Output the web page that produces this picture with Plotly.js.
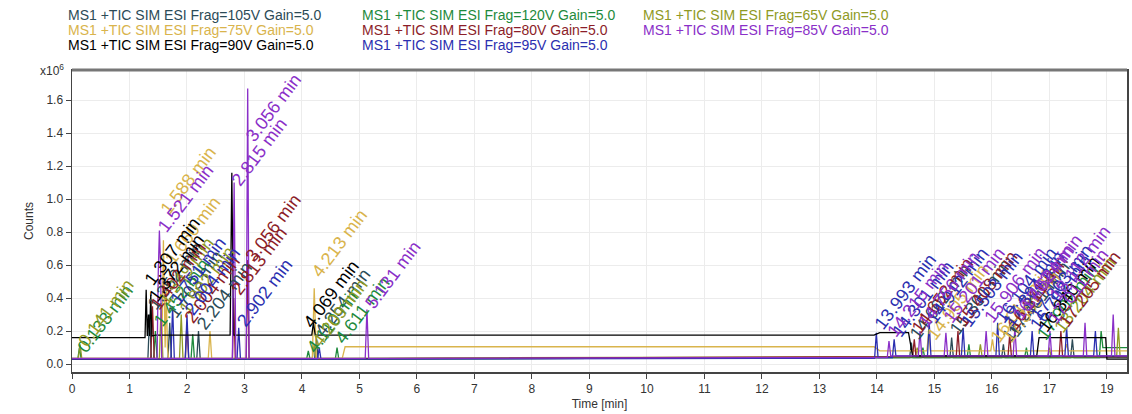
<!DOCTYPE html>
<html><head><meta charset="utf-8">
<script src="https://cdn.plot.ly/plotly-3.0.1.min.js"></script>
<style>html,body{margin:0;padding:0;background:#fff}#chart{width:1132px;height:414px}</style>
</head><body><div id="chart"></div>
<script>
// ---- data (counts in units of 1e6, time in min) ----
const seriesNames = [
  "MS1 +TIC SIM ESI Frag=105V Gain=5.0",
  "MS1 +TIC SIM ESI Frag=120V Gain=5.0",
  "MS1 +TIC SIM ESI Frag=65V Gain=5.0",
  "MS1 +TIC SIM ESI Frag=75V Gain=5.0",
  "MS1 +TIC SIM ESI Frag=80V Gain=5.0",
  "MS1 +TIC SIM ESI Frag=85V Gain=5.0",
  "MS1 +TIC SIM ESI Frag=90V Gain=5.0",
  "MS1 +TIC SIM ESI Frag=95V Gain=5.0"
];
const x105 = [0, 1.32, 1.35, 1.38, 1.67, 1.70, 1.73, 2.17, 2.20, 2.23, 4.22, 4.25, 4.28, 14.57, 14.60, 14.63, 15.27, 15.30, 15.33, 16.17, 16.20, 16.23, 17.37, 17.40, 17.43, 18.35];
const y105 = [0.03, 0.03, 0.30, 0.03, 0.03, 0.25, 0.03, 0.03, 0.20, 0.03, 0.03, 0.15, 0.03, 0.04, 0.13, 0.04, 0.04, 0.16, 0.04, 0.04, 0.12, 0.04, 0.04, 0.15, 0.04, 0.04];
const x120 = [0, 0.10, 0.13, 0.16, 1.42, 1.45, 1.48, 2.07, 2.10, 2.13, 4.08, 4.11, 4.14, 4.58, 4.61, 4.64, 14.77, 14.80, 14.83, 15.57, 15.60, 15.63, 16.57, 16.60, 16.63, 17.87, 17.90, 17.93, 18.35];
const y120 = [0.03, 0.03, 0.10, 0.03, 0.03, 0.2, 0.03, 0.03, 0.18, 0.03, 0.03, 0.08, 0.03, 0.03, 0.1, 0.03, 0.04, 0.1, 0.04, 0.04, 0.12, 0.04, 0.04, 0.1, 0.04, 0.04, 0.2, 0.1, 0.1];
const x65 = [0, 0.11, 0.14, 0.17, 1.52, 1.55, 1.58, 1.87, 1.90, 1.93, 4.18, 4.21, 4.24, 14.67, 14.70, 14.73, 15.77, 15.80, 15.83, 16.97, 17.00, 17.03, 18.17, 18.20, 18.23, 18.35];
const y65 = [0.035, 0.035, 0.12, 0.035, 0.035, 0.35, 0.035, 0.035, 0.3, 0.035, 0.035, 0.12, 0.035, 0.045, 0.1, 0.045, 0.045, 0.12, 0.045, 0.045, 0.1, 0.045, 0.045, 0.22, 0.045, 0.045];
const x75 = [0, 1.56, 1.59, 1.62, 1.64, 1.66, 1.68, 2.37, 2.40, 2.43, 4.18, 4.213, 4.25, 4.70, 4.75, 13.95, 14.05, 14.87, 14.90, 14.93, 15.98, 16.01, 16.04, 17.27, 17.30, 17.33, 18.35];
const y75 = [0.035, 0.035, 0.75, 0.1, 0.45, 0.1, 0.035, 0.035, 0.2, 0.035, 0.035, 0.46, 0.035, 0.035, 0.105, 0.105, 0.08, 0.08, 0.2, 0.08, 0.08, 0.15, 0.08, 0.08, 0.12, 0.08, 0.08];
const x80 = [0, 1.37, 1.40, 1.43, 1.97, 2.00, 2.03, 2.79, 2.813, 2.84, 3.03, 3.056, 3.08, 14.62, 14.65, 14.68, 15.38, 15.41, 15.44, 16.28, 16.31, 16.34, 17.17, 17.20, 17.23, 18.35];
const y80 = [0.03, 0.03, 0.35, 0.03, 0.03, 0.25, 0.03, 0.03, 0.4, 0.03, 0.03, 0.63, 0.03, 0.045, 0.15, 0.045, 0.045, 0.2, 0.045, 0.045, 0.18, 0.045, 0.045, 0.2, 0.045, 0.045];
const x85 = [0, 1.48, 1.50, 1.52, 1.54, 1.56, 2.79, 2.82, 2.85, 3.03, 3.056, 3.08, 5.10, 5.13, 5.16, 14.18, 14.21, 14.24, 14.72, 14.75, 14.78, 15.17, 15.20, 15.23, 15.87, 15.90, 15.93, 16.37, 16.40, 16.43, 16.98, 17.01, 17.04, 17.59, 17.62, 17.65, 18.08, 18.11, 18.14, 18.35];
const y85 = [0.035, 0.035, 0.55, 0.81, 0.6, 0.035, 0.035, 1.10, 0.035, 0.035, 1.67, 0.035, 0.035, 0.33, 0.035, 0.04, 0.14, 0.05, 0.05, 0.2, 0.05, 0.05, 0.19, 0.05, 0.05, 0.2, 0.05, 0.05, 0.22, 0.05, 0.05, 0.2, 0.05, 0.05, 0.25, 0.05, 0.05, 0.3, 0.05, 0.05];
const x90 = [0, 1.27, 1.29, 1.31, 1.33, 1.35, 1.37, 1.39, 1.45, 2.75, 2.78, 2.81, 4.17, 4.20, 4.23, 13.95, 14.05, 14.55, 14.62, 14.70, 16.78, 16.82, 17.98, 18.00, 18.35];
const y90 = [0.16, 0.16, 0.45, 0.17, 0.30, 0.17, 0.42, 0.17, 0.175, 0.175, 1.16, 0.175, 0.175, 0.25, 0.175, 0.175, 0.19, 0.19, 0.05, 0.05, 0.05, 0.16, 0.16, 0.03, 0.03];
const x95 = [0, 1.72, 1.75, 1.78, 1.97, 2.00, 2.03, 2.87, 2.90, 2.93, 4.27, 4.30, 4.33, 13.96, 13.99, 14.02, 14.27, 14.30, 14.33, 14.88, 14.91, 14.94, 15.47, 15.50, 15.53, 16.07, 16.10, 16.13, 16.67, 16.70, 16.73, 17.27, 17.30, 17.33, 17.77, 17.80, 17.83, 18.35];
const y95 = [0.03, 0.03, 0.35, 0.03, 0.03, 0.3, 0.03, 0.03, 0.22, 0.03, 0.03, 0.1, 0.03, 0.035, 0.19, 0.04, 0.04, 0.15, 0.05, 0.05, 0.25, 0.05, 0.05, 0.22, 0.05, 0.05, 0.25, 0.05, 0.05, 0.2, 0.05, 0.05, 0.22, 0.05, 0.05, 0.2, 0.05, 0.05];

// peak labels (retention time, label height)
const lab105t = [1.352, 1.703, 2.204, 4.254, 14.602, 15.301, 16.203, 17.401];
const lab105y = [0.30, 0.25, 0.18, 0.14, 0.12, 0.15, 0.11, 0.14];
const lab120t = [0.133, 1.452, 4.110, 4.611, 17.902];
const lab120y = [0.04, 0.20, 0.04, 0.10, 0.12];
const lab65t = [0.141, 1.549, 1.902, 4.209, 18.204];
const lab65y = [0.08, 0.33, 0.28, 0.08, 0.16];
const lab75t = [1.588, 1.660, 4.213, 14.905, 16.012, 17.301];
const lab75y = [0.88, 0.58, 0.50, 0.12, 0.10, 0.10];
const lab80t = [3.056, 2.813, 1.402, 2.004, 14.652, 15.408, 16.311, 17.205];
const lab80y = [0.59, 0.39, 0.30, 0.22, 0.16, 0.20, 0.18, 0.20];
const lab85t = [1.521, 2.815, 3.056, 5.131, 14.215, 14.756, 15.201, 15.906, 16.402, 17.011, 17.624, 18.112];
const lab85y = [0.77, 1.05, 1.32, 0.31, 0.14, 0.20, 0.22, 0.22, 0.24, 0.22, 0.30, 0.36];
const lab90t = [1.307, 4.069, 1.372, 16.840];
const lab90y = [0.45, 0.19, 0.35, 0.17];
const lab95t = [1.751, 2.004, 2.902, 13.993, 14.301, 14.912, 15.503, 16.104, 16.702, 17.304, 17.803];
const lab95y = [0.33, 0.27, 0.20, 0.18, 0.14, 0.22, 0.20, 0.22, 0.18, 0.20, 0.24];

const xTickVals = [0,1,2,3,4,5,6,7,8,9,10,11,12,13,14,15,16,17,18];
const xTickText = ["0","1","2","3","4","5","6","7","8","9","10","11","12","13","14","15","16","17","19"];
const yTickVals = [0,0.2,0.4,0.6,0.8,1.0,1.2,1.4,1.6];

// ---- styles ----
const colors = ["#2c4b57","#1e8a3c","#8f9a25","#d9b44c","#8c1d28","#8a2fc8","#000000","#2b2fb0"];
const xs = [x105,x120,x65,x75,x80,x85,x90,x95];
const ys = [y105,y120,y65,y75,y80,y85,y90,y95];
const labT = [lab105t,lab120t,lab65t,lab75t,lab80t,lab85t,lab90t,lab95t];
const labY = [lab105y,lab120y,lab65y,lab75y,lab80y,lab85y,lab90y,lab95y];
const drawOrder = [0,1,2,3,4,7,6,5];

const traces = drawOrder.map(i => ({
  type: 'scatter', mode: 'lines', x: xs[i], y: ys[i], name: seriesNames[i],
  line: {color: colors[i], width: 1.3}, showlegend: false, hoverinfo: 'skip'
}));

const W = 1132, H = 414, ML = 72, MR = 5, MT = 70, MB = 42;
const PW = W - ML - MR, PH = H - MT - MB;
const XMAX = 18.35;
const annotations = [];
// legend as coloured text
const colPx = [66, 360, 641], rowPx = [15, 30, 45];
seriesNames.forEach((n, i) => {
  const c = i % 3, r = Math.floor(i / 3);
  annotations.push({
    xref: 'paper', yref: 'paper', x: (colPx[c] - ML) / PW, y: (H - MB - rowPx[r]) / PH,
    xanchor: 'left', yanchor: 'middle', showarrow: false, text: n,
    font: {family: 'Liberation Sans, Arial, sans-serif', size: 14, color: colors[i]}
  });
});
// peak labels
const LFS = 18;
drawOrder.forEach(i => {
  labT[i].forEach((t, k) => {
    const nearEdge = t > 17.25;
    annotations.push({
      x: t, y: labY[i][k], xref: 'x', yref: 'y',
      xanchor: nearEdge ? 'right' : 'left', yanchor: 'bottom',
      xshift: nearEdge ? 4 : -9, yshift: -2,
      showarrow: false, textangle: -53, text: t.toFixed(3) + ' min',
      font: {family: 'Liberation Sans, Arial, sans-serif', size: LFS, color: colors[i]}
    });
  });
});
// x10^6 marker
annotations.push({
  xref: 'paper', yref: 'paper', x: -0.006, y: 1, xanchor: 'right', yanchor: 'middle',
  showarrow: false, text: 'x10<sup>6</sup>',
  font: {family: 'Liberation Sans, Arial, sans-serif', size: 12, color: '#333'}
});

const layout = {
  width: W, height: H, margin: {l: ML, r: MR, t: MT, b: MB},
  paper_bgcolor: '#fff', plot_bgcolor: '#fff',
  font: {family: 'Liberation Sans, Arial, sans-serif', size: 12, color: '#333'},
  xaxis: {
    range: [0, XMAX], tickvals: xTickVals, ticktext: xTickText,
    showgrid: true, gridcolor: '#ececec', gridwidth: 1, zeroline: false,
    showline: true, mirror: true, linecolor: '#444', linewidth: 1.5,
    ticks: 'outside', ticklen: 5, tickcolor: '#444',
    tickfont: {size: 12, color: '#333'},
    title: {text: 'Time [min]', font: {size: 12, color: '#333'}, standoff: 4}
  },
  yaxis: {
    range: [-0.048, 1.782], tickvals: yTickVals, tickformat: '.1f',
    showgrid: true, gridcolor: '#ececec', gridwidth: 1, zeroline: false,
    showline: true, mirror: true, linecolor: '#444', linewidth: 1.5,
    ticks: 'outside', ticklen: 5, tickcolor: '#444',
    tickfont: {size: 12, color: '#333'},
    title: {text: 'Counts', font: {size: 12, color: '#333'}, standoff: 10}
  },
  shapes: [{type: 'line', xref: 'paper', yref: 'paper', x0: 0, x1: 1, y0: 1, y1: 1,
            line: {color: '#777', width: 3}}],
  annotations: annotations
};
Plotly.newPlot('chart', traces, layout, {staticPlot: true});
</script></body></html>
